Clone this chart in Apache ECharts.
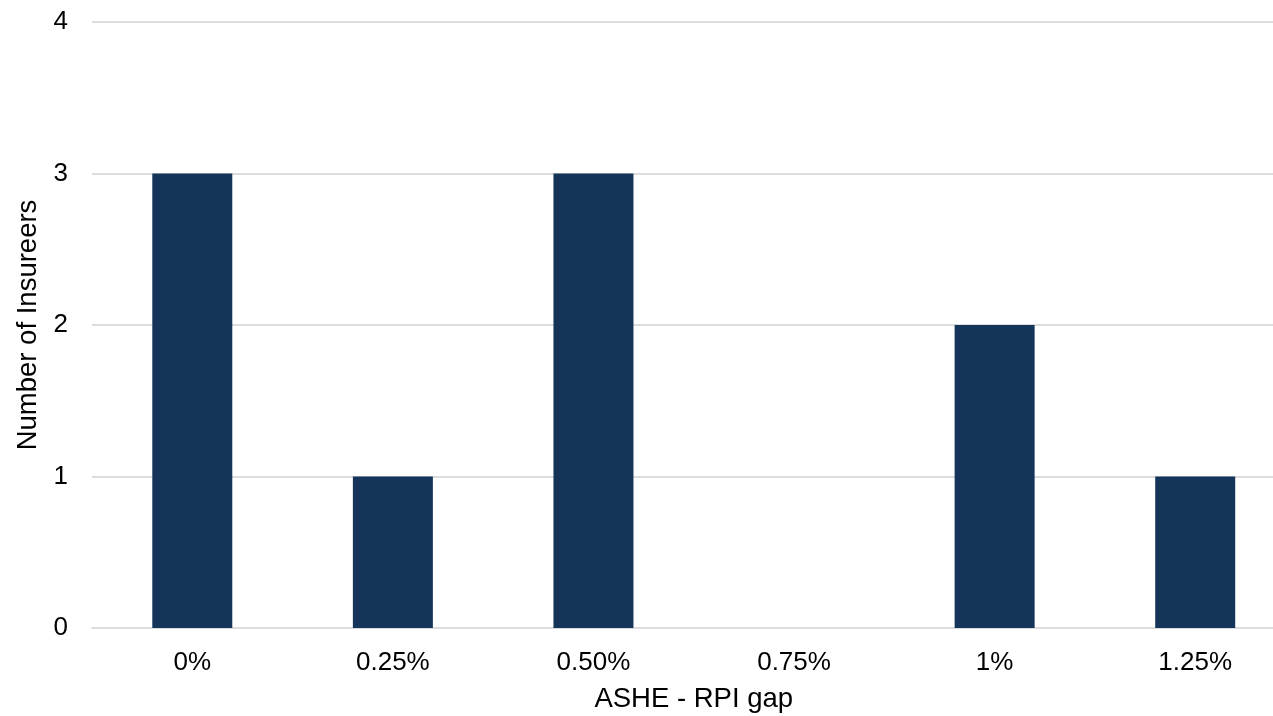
<!DOCTYPE html>
<html>
<head>
<meta charset="utf-8">
<script src="https://cdn.jsdelivr.net/npm/echarts@6/dist/echarts.min.js"></script>
<style>
html,body{margin:0;padding:0;background:#fff;}
#chart{width:1273px;height:716px;}
</style>
</head>
<body>
<div id="chart"></div>
<script>
const categories = ['0%', '0.25%', '0.50%', '0.75%', '1%', '1.25%'];
const insurers = [3, 1, 3, 0, 2, 1];
const yTicks = [0, 1, 2, 3, 4];

const chart = echarts.init(document.getElementById('chart'), null, {renderer: 'canvas'});
const font = '"Liberation Sans", Arial, sans-serif';
chart.setOption({
  animation: false,
  grid: {left: 92, top: 22, width: 1203.5, height: 606, containLabel: false, outerBoundsMode: 'none'},
  xAxis: {
    type: 'category',
    data: categories,
    axisLine: {show: true, lineStyle: {color: '#dcdcdc', width: 2}},
    axisTick: {show: false},
    axisLabel: {color: '#000', fontSize: 26, fontFamily: font, margin: 22},
    name: 'ASHE - RPI gap',
    nameLocation: 'middle',
    nameGap: 57,
    nameTextStyle: {color: '#000', fontSize: 27.5, fontFamily: font}
  },
  yAxis: {
    type: 'value',
    min: yTicks[0],
    max: yTicks[yTicks.length - 1],
    interval: 1,
    axisLine: {show: false},
    axisTick: {show: false},
    splitLine: {show: true, lineStyle: {color: '#dcdcdc', width: 2}},
    axisLabel: {color: '#000', fontSize: 26, fontFamily: font, margin: 24},
    name: 'Number of Insureers',
    nameLocation: 'middle',
    nameGap: 47,
    nameRotate: 90,
    nameTextStyle: {color: '#000', fontSize: 27.5, fontFamily: font}
  },
  series: [{
    type: 'bar',
    data: insurers,
    barWidth: 80,
    itemStyle: {color: '#143559'}
  }]
});
</script>
</body>
</html>
